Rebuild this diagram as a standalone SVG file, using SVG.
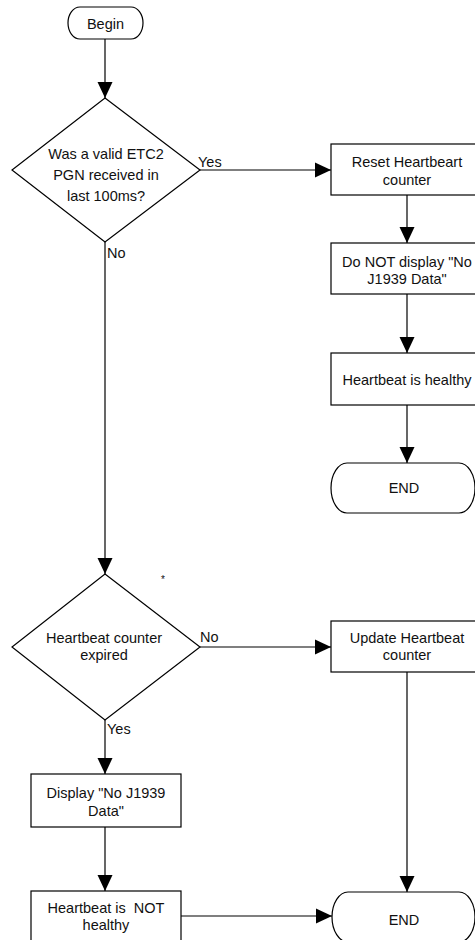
<svg xmlns="http://www.w3.org/2000/svg" width="475" height="940" viewBox="0 0 475 940">
  <style>
    .shape { fill: #ffffff; stroke: #000000; stroke-width: 1.2; }
    .edge { fill: none; stroke: #000000; stroke-width: 1.2; }
    text { font-family: "Liberation Sans", Arial, sans-serif; font-size: 14.5px; fill: #111111; }
    .c { text-anchor: middle; }
  </style>
  <defs>
    <marker id="arrow" markerUnits="userSpaceOnUse" markerWidth="16" markerHeight="16" refX="16" refY="8" orient="auto">
      <path d="M0,0.5 L16,8 L0,15.5 Z" fill="#000000"/>
    </marker>
  </defs>

  <rect width="475" height="940" fill="#ffffff"/>

  <!-- connectors -->
  <g id="connectors">
    <line class="edge" x1="105" y1="39" x2="105" y2="98" marker-end="url(#arrow)"/>
    <line class="edge" x1="200" y1="170" x2="331" y2="170" marker-end="url(#arrow)"/>
    <line class="edge" x1="407" y1="195" x2="407" y2="243" marker-end="url(#arrow)"/>
    <line class="edge" x1="407" y1="294" x2="407" y2="353" marker-end="url(#arrow)"/>
    <line class="edge" x1="407" y1="405" x2="407" y2="463" marker-end="url(#arrow)"/>
    <line class="edge" x1="105" y1="242" x2="105" y2="574" marker-end="url(#arrow)"/>
    <line class="edge" x1="200" y1="647" x2="331" y2="647" marker-end="url(#arrow)"/>
    <line class="edge" x1="407" y1="672" x2="407" y2="892" marker-end="url(#arrow)"/>
    <line class="edge" x1="105" y1="720" x2="105" y2="774" marker-end="url(#arrow)"/>
    <line class="edge" x1="105" y1="827" x2="105" y2="891" marker-end="url(#arrow)"/>
    <line class="edge" x1="181" y1="916" x2="332" y2="916" marker-end="url(#arrow)"/>
    <text x="198" y="167">Yes</text>
    <text x="107" y="258">No</text>
    <text x="200" y="642">No</text>
    <text x="107" y="734">Yes</text>
  </g>

  <!-- nodes -->
  <g id="begin">
    <rect class="shape" x="68" y="7" width="75" height="32" rx="12" ry="16"/>
    <text class="c" x="105.5" y="29">Begin</text>
  </g>

  <g id="check-etc2">
    <polygon class="shape" points="105,98 200,170 105,242 12,170"/>
    <text class="c" x="106" y="159">Was a valid ETC2</text>
    <text class="c" x="106" y="180">PGN received in</text>
    <text class="c" x="106" y="201">last 100ms?</text>
  </g>

  <g id="reset-counter">
    <rect class="shape" x="331" y="144" width="152" height="51"/>
    <text class="c" x="407" y="167">Reset Heartbeart</text>
    <text class="c" x="407" y="185">counter</text>
  </g>

  <g id="hide-message">
    <rect class="shape" x="331" y="243" width="152" height="51"/>
    <text class="c" x="407" y="267">Do NOT display "No</text>
    <text class="c" x="407" y="284">J1939 Data"</text>
  </g>

  <g id="healthy">
    <rect class="shape" x="331" y="353" width="152" height="52"/>
    <text class="c" x="407" y="385">Heartbeat is healthy</text>
  </g>

  <g id="end-healthy">
    <path class="shape" d="M347,463 H459 A16,25 0 0 1 459,513 H347 A16,25 0 0 1 347,463 Z"/>
    <text class="c" x="404" y="493">END</text>
  </g>

  <g id="check-counter">
    <polygon class="shape" points="105,574 200,647 105,720 12,647"/>
    <text class="c" x="104" y="643">Heartbeat counter</text>
    <text class="c" x="104" y="660">expired</text>
  </g>

  <text x="161" y="583" style="font-size:10px">*</text>

  <g id="update-counter">
    <rect class="shape" x="331" y="621" width="152" height="51"/>
    <text class="c" x="407" y="643">Update Heartbeat</text>
    <text class="c" x="407" y="660">counter</text>
  </g>

  <g id="show-message">
    <rect class="shape" x="31" y="774" width="150" height="53"/>
    <text class="c" x="106" y="798">Display "No J1939</text>
    <text class="c" x="106" y="816">Data"</text>
  </g>

  <g id="not-healthy">
    <rect class="shape" x="31" y="891" width="150" height="60"/>
    <text class="c" x="106" y="913" xml:space="preserve">Heartbeat is  NOT</text>
    <text class="c" x="106" y="930">healthy</text>
  </g>

  <g id="end-unhealthy">
    <path class="shape" d="M348,892 H459 A16,25 0 0 1 459,942 H348 A16,25 0 0 1 348,892 Z"/>
    <text class="c" x="404" y="925">END</text>
  </g>
</svg>
